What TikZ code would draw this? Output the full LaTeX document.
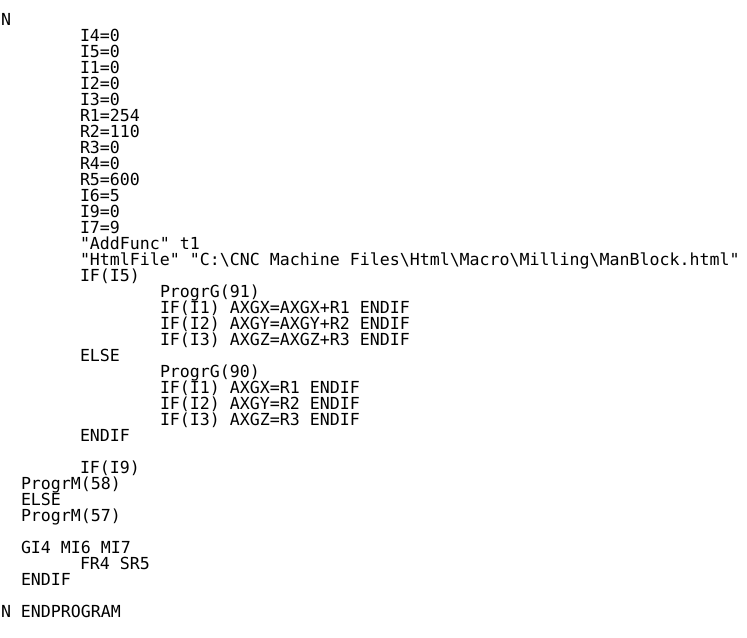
\documentclass[tikz,border=0pt]{standalone}
\usepackage{fontspec}
\newfontfamily\codefont{DejaVu Sans Mono}
\begin{document}
\begin{tikzpicture}[x=1bp,y=-1bp,
  codeline/.style={anchor=base west, inner sep=0pt, outer sep=0pt,
    font=\codefont\fontsize{16.6bp}{16bp}\selectfont, text=black}]
\useasboundingbox (0,0) rectangle (747,638);
\fill[white] (0,0) rectangle (747,638);
% columns: c0=1, c2=21, c8=80, c16=160 ; baseline row k = 41.5+16k
\node[codeline] (n0) at (1,25.5) {N};
\node[codeline] (l0) at (80,41.5) {I4=0};
\node[codeline] (l1) at (80,57.5) {I5=0};
\node[codeline] (l2) at (80,73.5) {I1=0};
\node[codeline] (l3) at (80,89.5) {I2=0};
\node[codeline] (l4) at (80,105.5) {I3=0};
\node[codeline] (l5) at (80,121.5) {R1=254};
\node[codeline] (l6) at (80,137.5) {R2=110};
\node[codeline] (l7) at (80,153.5) {R3=0};
\node[codeline] (l8) at (80,169.5) {R4=0};
\node[codeline] (l9) at (80,185.5) {R5=600};
\node[codeline] (l10) at (80,201.5) {I6=5};
\node[codeline] (l11) at (80,217.5) {I9=0};
\node[codeline] (l12) at (80,233.5) {I7=9};
\node[codeline] (l13) at (80,249.5) {"AddFunc" t1};
\node[codeline] (l14) at (80,265.5) {"HtmlFile" "C:\textbackslash CNC Machine Files\textbackslash Html\textbackslash Macro\textbackslash Milling\textbackslash ManBlock.html"};
\node[codeline] (l15) at (80,281.5) {IF(I5)};
\node[codeline] (l16) at (160,297.5) {ProgrG(91)};
\node[codeline] (l17) at (160,313.5) {IF(I1) AXGX=AXGX+R1 ENDIF};
\node[codeline] (l18) at (160,329.5) {IF(I2) AXGY=AXGY+R2 ENDIF};
\node[codeline] (l19) at (160,345.5) {IF(I3) AXGZ=AXGZ+R3 ENDIF};
\node[codeline] (l20) at (80,361.5) {ELSE};
\node[codeline] (l21) at (160,377.5) {ProgrG(90)};
\node[codeline] (l22) at (160,393.5) {IF(I1) AXGX=R1 ENDIF};
\node[codeline] (l23) at (160,409.5) {IF(I2) AXGY=R2 ENDIF};
\node[codeline] (l24) at (160,425.5) {IF(I3) AXGZ=R3 ENDIF};
\node[codeline] (l25) at (80,441.5) {ENDIF};
\node[codeline] (l27) at (80,473.5) {IF(I9)};
\node[codeline] (l28) at (21,489.5) {ProgrM(58)};
\node[codeline] (l29) at (21,505.5) {ELSE};
\node[codeline] (l30) at (21,521.5) {ProgrM(57)};
\node[codeline] (l32) at (21,553.5) {GI4 MI6 MI7};
\node[codeline] (l33) at (80,569.5) {FR4 SR5};
\node[codeline] (l34) at (21,585.5) {ENDIF};
\node[codeline] (l36) at (1,617.5) {N ENDPROGRAM};
\end{tikzpicture}
\end{document}
